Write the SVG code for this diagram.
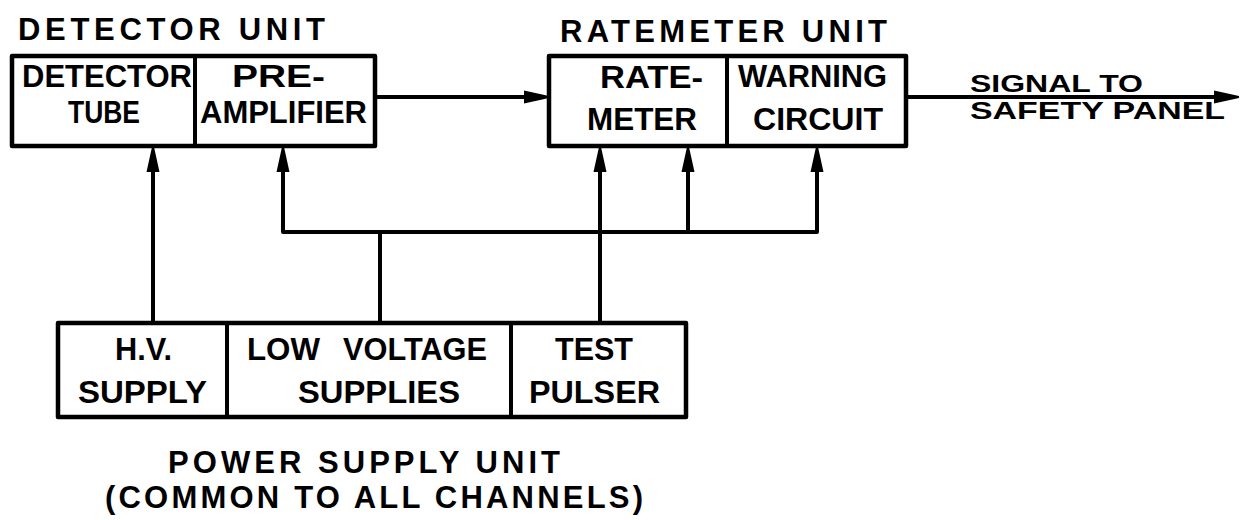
<svg xmlns="http://www.w3.org/2000/svg" width="1240" height="520" viewBox="0 0 1240 520">
<style>
.box{fill:none;stroke:#000;stroke-width:4.5;stroke-linejoin:round}
.div{stroke:#000;stroke-width:4}
.ln{fill:none;stroke:#000;stroke-width:4;stroke-linejoin:round}
text{font-family:"Liberation Sans",Arial,sans-serif;font-weight:bold;fill:#000}
.t{font-size:32px}
.ttl{font-size:31px}
.sig{font-size:23px}
</style>
<defs>
<marker id="ah" viewBox="0 -7 26 14" refX="0" refY="0" markerWidth="26" markerHeight="14" markerUnits="userSpaceOnUse" orient="auto">
<path d="M0,-6.5 L25,-1 L25,1 L0,6.5 Z" fill="#000"/>
</marker>
</defs>
<rect width="1240" height="520" fill="#fff"/>

<g id="detector-unit">
<text class="ttl" x="18" y="40" textLength="307" lengthAdjust="spacing">DETECTOR UNIT</text>
<rect class="box" x="12" y="56" width="363" height="90"/>
<line class="div" x1="195" y1="56" x2="195" y2="146"/>
</g>
<g id="detector-tube">
<text class="t" x="22" y="87" textLength="170" lengthAdjust="spacingAndGlyphs">DETECTOR</text>
<text class="t" x="68" y="123" textLength="72" lengthAdjust="spacingAndGlyphs">TUBE</text>
</g>
<g id="pre-amplifier">
<text class="t" x="232" y="87" textLength="93" lengthAdjust="spacingAndGlyphs">PRE-</text>
<text class="t" x="200" y="123" textLength="167" lengthAdjust="spacingAndGlyphs">AMPLIFIER</text>
</g>

<g id="ratemeter-unit">
<text class="ttl" x="560" y="42" textLength="327" lengthAdjust="spacing">RATEMETER UNIT</text>
<rect class="box" x="549" y="56" width="357" height="90"/>
<line class="div" x1="727" y1="56" x2="727" y2="146"/>
</g>
<g id="ratemeter">
<text class="t" x="600" y="88" textLength="103" lengthAdjust="spacingAndGlyphs">RATE-</text>
<text class="t" x="587" y="130" textLength="110" lengthAdjust="spacingAndGlyphs">METER</text>
</g>
<g id="warning-circuit">
<text class="t" x="738" y="87" textLength="149" lengthAdjust="spacingAndGlyphs">WARNING</text>
<text class="t" x="753" y="130" textLength="130" lengthAdjust="spacingAndGlyphs">CIRCUIT</text>
</g>

<g id="signal-label">
<text class="sig" x="970" y="92" textLength="173" lengthAdjust="spacingAndGlyphs">SIGNAL TO</text>
<text class="sig" x="970" y="119" textLength="255" lengthAdjust="spacingAndGlyphs">SAFETY PANEL</text>
</g>

<g id="power-supply-unit">
<rect class="box" x="58" y="323" width="628" height="94"/>
<line class="div" x1="227" y1="323" x2="227" y2="417"/>
<line class="div" x1="511" y1="323" x2="511" y2="417"/>
<text class="ttl" x="168" y="473" textLength="392" lengthAdjust="spacing">POWER SUPPLY UNIT</text>
<text class="ttl" x="105" y="508" textLength="538" lengthAdjust="spacing">(COMMON TO ALL CHANNELS)</text>
</g>
<g id="hv-supply">
<text class="t" x="115" y="360" textLength="57" lengthAdjust="spacingAndGlyphs">H.V.</text>
<text class="t" x="78" y="403" textLength="129" lengthAdjust="spacingAndGlyphs">SUPPLY</text>
</g>
<g id="low-voltage-supplies">
<text class="t" x="247" y="360" textLength="73" lengthAdjust="spacingAndGlyphs">LOW</text>
<text class="t" x="343" y="360" textLength="144" lengthAdjust="spacingAndGlyphs">VOLTAGE</text>
<text class="t" x="298" y="403" textLength="162" lengthAdjust="spacingAndGlyphs">SUPPLIES</text>
</g>
<g id="test-pulser">
<text class="t" x="555" y="360" textLength="78" lengthAdjust="spacingAndGlyphs">TEST</text>
<text class="t" x="529" y="403" textLength="131" lengthAdjust="spacingAndGlyphs">PULSER</text>
</g>

<g id="connectors">
<line class="ln" x1="375" y1="97" x2="524" y2="97" marker-end="url(#ah)"/>
<line class="ln" x1="906" y1="97" x2="1214" y2="97" marker-end="url(#ah)"/>
<line class="ln" x1="153" y1="323" x2="153" y2="172" marker-end="url(#ah)"/>
<polyline class="ln" points="283,172 283,232 817,232 817,172"/>
<line class="ln" x1="283" y1="232" x2="283" y2="172" marker-end="url(#ah)"/>
<line class="ln" x1="817" y1="232" x2="817" y2="172" marker-end="url(#ah)"/>
<line class="ln" x1="380" y1="323" x2="380" y2="232"/>
<line class="ln" x1="600" y1="323" x2="600" y2="172" marker-end="url(#ah)"/>
<line class="ln" x1="688" y1="232" x2="688" y2="172" marker-end="url(#ah)"/>
</g>
</svg>
